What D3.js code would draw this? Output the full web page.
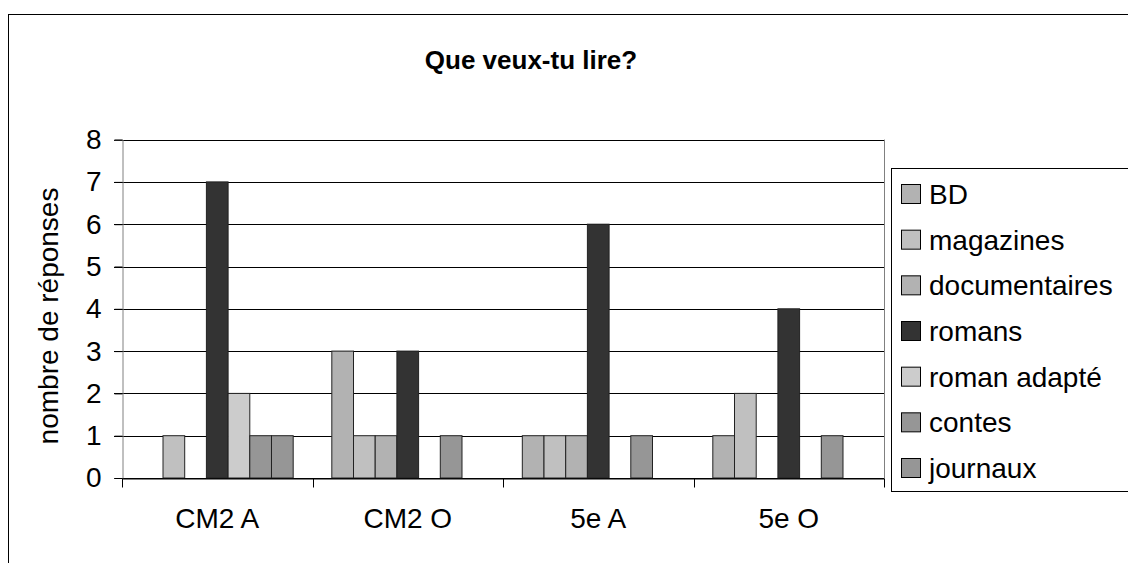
<!DOCTYPE html>
<html><head><meta charset="utf-8">
<script src="https://cdn.jsdelivr.net/npm/d3@7"></script>
<style>body{margin:0;background:#fff}svg{display:block}</style>
</head><body>
<script>
const categories = ["CM2 A", "CM2 O", "5e A", "5e O"];
const series = ["BD", "magazines", "documentaires", "romans", "roman adapté", "contes", "journaux"];
const BD = [0, 3, 1, 1];
const magazines = [1, 1, 1, 2];
const documentaires = [0, 1, 1, 0];
const romans = [7, 3, 6, 4];
const romanAdapte = [2, 0, 0, 0];
const contes = [1, 1, 1, 1];
const journaux = [1, 0, 0, 0];
const yTicks = [0, 1, 2, 3, 4, 5, 6, 7, 8];
const colors = ["#b2b2b2", "#c0c0c0", "#b2b2b2", "#333333", "#cccccc", "#969696", "#969696"];
const values = [BD, magazines, documentaires, romans, romanAdapte, contes, journaux];

const W = 1128, H = 563;
const svg = d3.select("body").append("svg").attr("width", W).attr("height", H);
const font = "Liberation Sans, Arial, sans-serif";

// outer chart border
svg.append("rect").attr("x", 8.5).attr("y", 14.5).attr("width", 1200).attr("height", 700)
  .attr("fill", "#fff").attr("stroke", "#000");

svg.append("text").attr("x", 531).attr("y", 69).attr("text-anchor", "middle")
  .attr("font-family", font).attr("font-weight", "bold").attr("font-size", 26)
  .text("Que veux-tu lire?");

const plot = {l: 122, r: 884, t: 139.6, b: 478};
const y = d3.scaleLinear().domain([0, 8]).range([plot.b, plot.t]);
const x0 = d3.scaleBand().domain(categories).range([plot.l, plot.r]).padding(0);
const x1 = d3.scaleBand().domain(series).range([0, x0.bandwidth()]).paddingInner(0).paddingOuter(0.89);

// gridlines
svg.append("g").selectAll("line").data(yTicks).join("line")
  .attr("x1", plot.l - 8).attr("x2", plot.r)
  .attr("y1", d => Math.round(y(d)) + 0.5).attr("y2", d => Math.round(y(d)) + 0.5)
  .attr("stroke", "#000");

// plot area right border
svg.append("line").attr("x1", plot.r + 0.5).attr("x2", plot.r + 0.5)
  .attr("y1", plot.t).attr("y2", plot.b).attr("stroke", "#808080");

// bars
const groups = svg.append("g").selectAll("g").data(categories).join("g")
  .attr("transform", d => `translate(${x0(d)},0)`);
groups.selectAll("rect").data((c, i) => series.map((s, j) => ({s, j, v: values[j][i]})))
  .join("rect")
  .filter(d => d.v > 0)
  .attr("x", d => x1(d.s)).attr("width", x1.bandwidth())
  .attr("y", d => y(d.v)).attr("height", d => y(0) - y(d.v))
  .attr("fill", d => colors[d.j]).attr("stroke", "#222").attr("stroke-width", 1);

// y axis
const yAxis = d3.axisLeft(y).tickValues(yTicks).tickSize(8).tickFormat(d3.format("d"));
const ya = svg.append("g").attr("transform", `translate(${plot.l + 0.5},0)`).call(yAxis);
ya.select(".domain").attr("stroke", "#808080");
ya.selectAll(".tick line").attr("stroke", "#000");
ya.selectAll("text").attr("font-family", font).attr("font-size", 28).attr("fill", "#000").attr("x", -21);

// x axis
const xa = svg.append("g").attr("transform", `translate(0,${Math.round(plot.b) + 0.5})`)
  .call(d3.axisBottom(x0).tickSize(0).tickPadding(30));
xa.select(".domain").attr("stroke", "#000");
xa.selectAll("text").attr("font-family", font).attr("font-size", 28).attr("fill", "#000");
xa.selectAll(".sep").data(d3.range(categories.length + 1)).join("line")
  .attr("x1", i => Math.round(plot.l + i * x0.step()) + 0.5)
  .attr("x2", i => Math.round(plot.l + i * x0.step()) + 0.5)
  .attr("y1", 0).attr("y2", 9).attr("stroke", "#000");

// y title
svg.append("text").attr("transform", "translate(58,316) rotate(-90)")
  .attr("text-anchor", "middle").attr("font-family", font).attr("font-size", 28)
  .text("nombre de réponses");

// legend
const lg = svg.append("g");
lg.append("rect").attr("x", 891.5).attr("y", 168.5).attr("width", 300).attr("height", 323)
  .attr("fill", "#fff").attr("stroke", "#000");
const ly = d3.scalePoint().domain(series).range([194, 468]);
const items = lg.selectAll("g.it").data(series).join("g").attr("class", "it")
  .attr("transform", d => `translate(0,${ly(d)})`);
items.append("rect").attr("x", 901.5).attr("y", -9.5).attr("width", 19).attr("height", 19)
  .attr("fill", (d, i) => colors[i]).attr("stroke", "#000");
items.append("text").attr("x", 929).attr("y", 10).attr("font-family", font).attr("font-size", 28)
  .text(d => d);
</script>
</body></html>
